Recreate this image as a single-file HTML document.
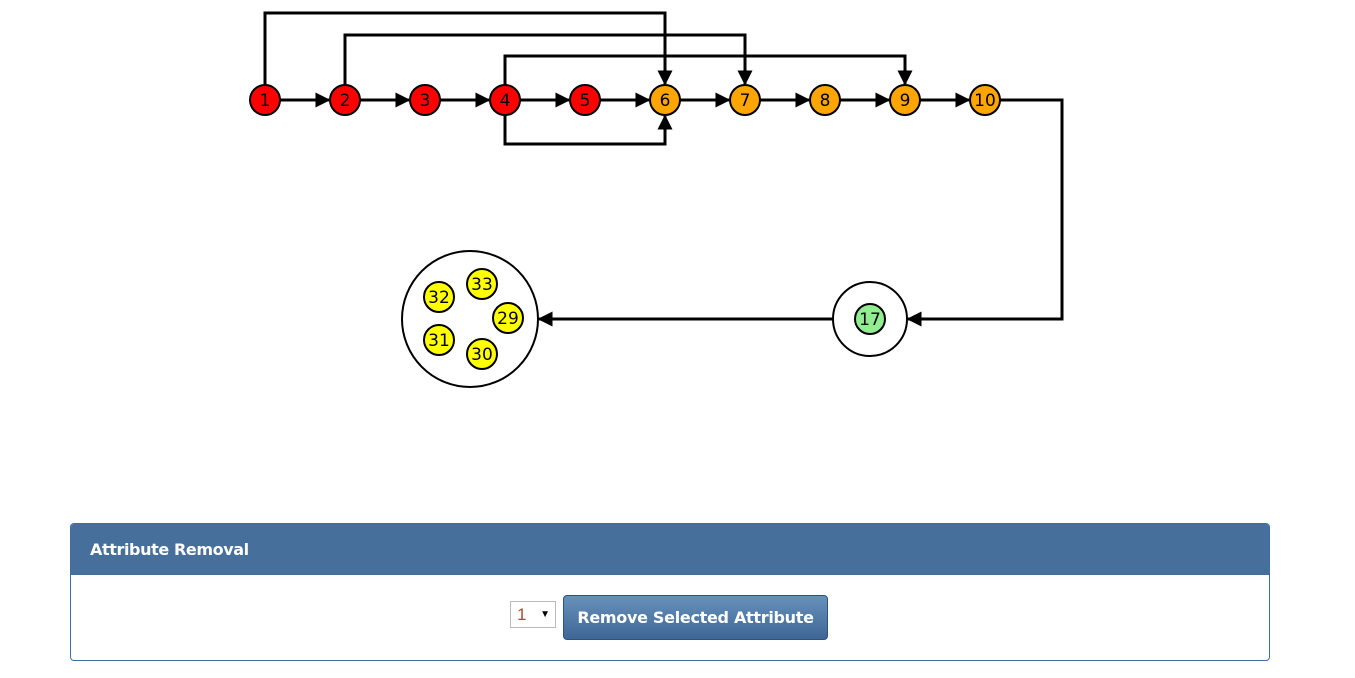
<!DOCTYPE html>
<html><head><style>
body{margin:0;width:1355px;height:678px;background:#fff;position:relative;font-family:"Liberation Sans",sans-serif;overflow:hidden}
.panel{position:absolute;left:70px;top:523px;width:1198px;height:136px;border:1px solid #3f6ea5;border-radius:4px;overflow:hidden}
.hd{height:51px;background:#466f9b;color:#fff;font-weight:bold;font-size:16px;line-height:52px;padding-left:19px;font-family:"DejaVu Sans",sans-serif;letter-spacing:-0.4px}
.sel{position:absolute;left:439px;top:77px;width:46px;height:27px;border:1px solid #bbb;box-sizing:border-box;font-size:17px;color:#a0522d;line-height:25px;padding-left:6px}
.sel span{position:absolute;right:5px;top:0;font-size:10px;color:#000}
.btn{position:absolute;left:492px;top:71px;width:265px;height:45px;border:1px solid #2e5380;border-radius:4px;box-sizing:border-box;background:linear-gradient(#6790bb,#3e6796);color:#fff;font-weight:bold;font-size:16px;line-height:44px;text-align:center;font-family:"DejaVu Sans",sans-serif;letter-spacing:-0.3px}
</style></head><body>
<svg width="1355" height="500" style="position:absolute;left:0;top:0" font-family="DejaVu Sans, sans-serif">
<defs><marker id="a" markerWidth="5" markerHeight="5" refX="4.5" refY="2.5" orient="auto" markerUnits="strokeWidth"><path d="M0,0L5,2.5L0,5z" fill="#000"/></marker></defs>
<g stroke="#000" stroke-width="3" fill="none">
<path d="M265,85V13H665V84" marker-end="url(#a)"/>
<path d="M345,85V35H745V84" marker-end="url(#a)"/>
<path d="M505,85V56H905V84" marker-end="url(#a)"/>
<path d="M505,115V144H665V116" marker-end="url(#a)"/>
<path d="M280,100H329" marker-end="url(#a)"/><path d="M360,100H409" marker-end="url(#a)"/>
<path d="M440,100H489" marker-end="url(#a)"/><path d="M520,100H569" marker-end="url(#a)"/>
<path d="M600,100H649" marker-end="url(#a)"/><path d="M680,100H729" marker-end="url(#a)"/>
<path d="M760,100H809" marker-end="url(#a)"/><path d="M840,100H889" marker-end="url(#a)"/>
<path d="M920,100H969" marker-end="url(#a)"/>
<path d="M1000,100H1062V319H908" marker-end="url(#a)"/>
<path d="M833,319H539" marker-end="url(#a)"/>
</g>
<g stroke="#000" stroke-width="2" font-size="17" text-anchor="middle">
<circle cx="870" cy="319" r="37" fill="#fff"/>
<circle cx="470" cy="319" r="68" fill="#fff"/>
<g fill="red"><circle cx="265" cy="100" r="15"/><circle cx="345" cy="100" r="15"/><circle cx="425" cy="100" r="15"/><circle cx="505" cy="100" r="15"/><circle cx="585" cy="100" r="15"/></g>
<g fill="orange"><circle cx="665" cy="100" r="15"/><circle cx="745" cy="100" r="15"/><circle cx="825" cy="100" r="15"/><circle cx="905" cy="100" r="15"/><circle cx="985" cy="100" r="15"/></g>
<circle cx="870" cy="319" r="15" fill="#90ee90"/>
<g fill="yellow"><circle cx="482" cy="284" r="15"/><circle cx="439" cy="297" r="15"/><circle cx="508" cy="318" r="15"/><circle cx="439" cy="340" r="15"/><circle cx="482" cy="354" r="15"/></g>
<g stroke="none" fill="#000">
<text x="265" y="106">1</text><text x="345" y="106">2</text><text x="425" y="106">3</text><text x="505" y="106">4</text><text x="585" y="106">5</text>
<text x="665" y="106">6</text><text x="745" y="106">7</text><text x="825" y="106">8</text><text x="905" y="106">9</text><text x="985" y="106">10</text>
<text x="870" y="325">17</text><text x="482" y="290">33</text><text x="439" y="303">32</text><text x="508" y="324">29</text><text x="439" y="346">31</text><text x="482" y="360">30</text>
</g></g>
</svg>
<div class="panel"><div class="hd">Attribute Removal</div>
<div class="sel">1<span>▼</span></div>
<div class="btn">Remove Selected Attribute</div></div>
</body></html>
